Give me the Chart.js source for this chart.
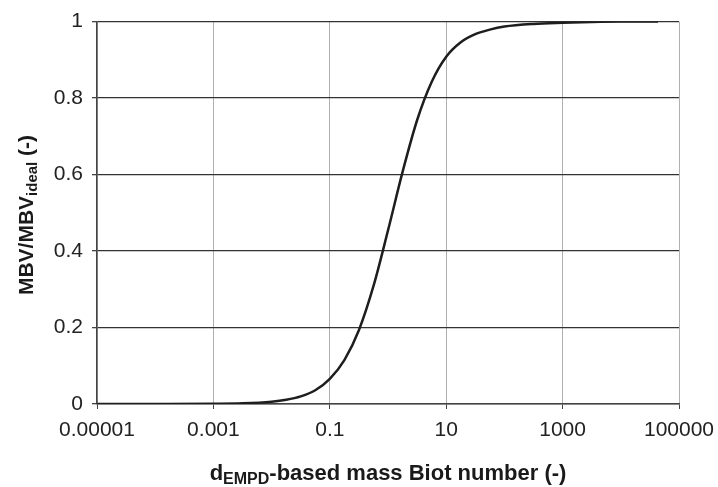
<!DOCTYPE html>
<html>
<head>
<meta charset="utf-8">
<script src="https://cdn.jsdelivr.net/npm/chart.js@4"></script>
<style>
  html, body { margin: 0; padding: 0; background: #fff; }
  #wrap { width: 718px; height: 487px; }
</style>
</head>
<body>
<div id="wrap"><canvas id="myChart" width="718" height="487"></canvas></div>
<script>
// values (quarter-decade steps through the rise)
const biotNumbers = [0.00001, 0.0001, 0.001, 0.00316, 0.01, 0.0178, 0.0316, 0.0562, 0.1, 0.178, 0.316, 0.562, 1, 1.78, 3.16, 5.62, 10, 17.8, 31.6, 56.2, 100, 316, 1000, 3162, 10000, 43600];
const mbvRatio    = [0.0000, 0.0000, 0.0005, 0.0017, 0.006, 0.011, 0.020, 0.036, 0.066, 0.115, 0.193, 0.308, 0.454, 0.607, 0.742, 0.842, 0.908, 0.946, 0.967, 0.979, 0.987, 0.994, 0.997, 0.999, 1.0, 1.0];

const xTickValues = [0.00001, 0.001, 0.1, 10, 1000, 100000];
const xTickLabels = ["0.00001", "0.001", "0.1", "10", "1000", "100000"];
const yTickLabels = ["0", "0.2", "0.4", "0.6", "0.8", "1"];

const FONT = "'Liberation Sans', Arial, sans-serif";

// draws a line of text with subscript parts, centred on x
function drawParts(ctx, parts, x, y, size) {
    const subSize = Math.round(size * 0.72);
    let total = 0;
    parts.forEach((p) => {
        ctx.font = "bold " + (p.sub ? subSize : size) + "px " + FONT;
        p.w = ctx.measureText(p.t).width;
        total += p.w;
    });
    let cx = x - total / 2;
    parts.forEach((p) => {
        ctx.font = "bold " + (p.sub ? subSize : size) + "px " + FONT;
        ctx.fillText(p.t, cx, y + (p.sub ? 4 : 0));
        cx += p.w;
    });
}

const axisTitles = {
    id: "axisTitles",
    afterDraw(chart) {
        const ctx = chart.ctx;
        ctx.save();
        ctx.fillStyle = "#1a1a1a";
        ctx.textBaseline = "alphabetic";
        ctx.textAlign = "left";
        drawParts(ctx, [
            { t: "d", sub: false },
            { t: "EMPD", sub: true },
            { t: "-based mass Biot number (-)", sub: false }
        ], 388, 480, 22);
        ctx.translate(33, 215);
        ctx.rotate(-Math.PI / 2);
        drawParts(ctx, [
            { t: "MBV/MBV", sub: false },
            { t: "ideal", sub: true },
            { t: " (-)", sub: false }
        ], 0, 0, 21);
        ctx.restore();
    }
};

new Chart("myChart", {
    type: "scatter",
    data: {
        datasets: [{
            data: biotNumbers.map((b, i) => ({ x: b, y: mbvRatio[i] })),
            showLine: true,
            borderColor: "#1e1e1e",
            borderWidth: 2.5,
            pointRadius: 0,
            cubicInterpolationMode: "monotone"
        }]
    },
    options: {
        responsive: false,
        animation: false,
        layout: { padding: { left: 0, right: 39, top: 18, bottom: 0 } },
        plugins: {
            legend: { display: false },
            tooltip: { enabled: false }
        },
        scales: {
            x: {
                type: "logarithmic",
                min: 0.00001,
                max: 100000,
                afterBuildTicks: (scale) => {
                    scale.ticks = xTickValues.map((v) => ({ value: v }));
                },
                afterFit: (scale) => {
                    scale.height = 83;
                    scale.paddingLeft = 0;
                    scale.paddingRight = 0;
                },
                ticks: {
                    autoSkip: false,
                    maxRotation: 0,
                    padding: 9,
                    color: "#222",
                    font: { family: FONT, size: 21 },
                    callback: (v, i) => xTickLabels[i]
                },
                grid: {
                    color: "#b0b0b0",
                    lineWidth: 1,
                    tickLength: 5,
                    tickColor: "#444"
                },
                border: { color: "#444", width: 1.5 }
            },
            y: {
                min: 0,
                max: 1,
                afterFit: (scale) => { scale.width = 97; },
                ticks: {
                    stepSize: 0.2,
                    padding: 9,
                    color: "#222",
                    font: { family: FONT, size: 21 },
                    callback: (v, i) => yTickLabels[i]
                },
                grid: {
                    color: "#333",
                    lineWidth: 1.3,
                    tickLength: 5,
                    tickColor: "#444"
                },
                border: { color: "#444", width: 1.5 }
            }
        }
    },
    plugins: [axisTitles]
});
</script>
</body>
</html>
